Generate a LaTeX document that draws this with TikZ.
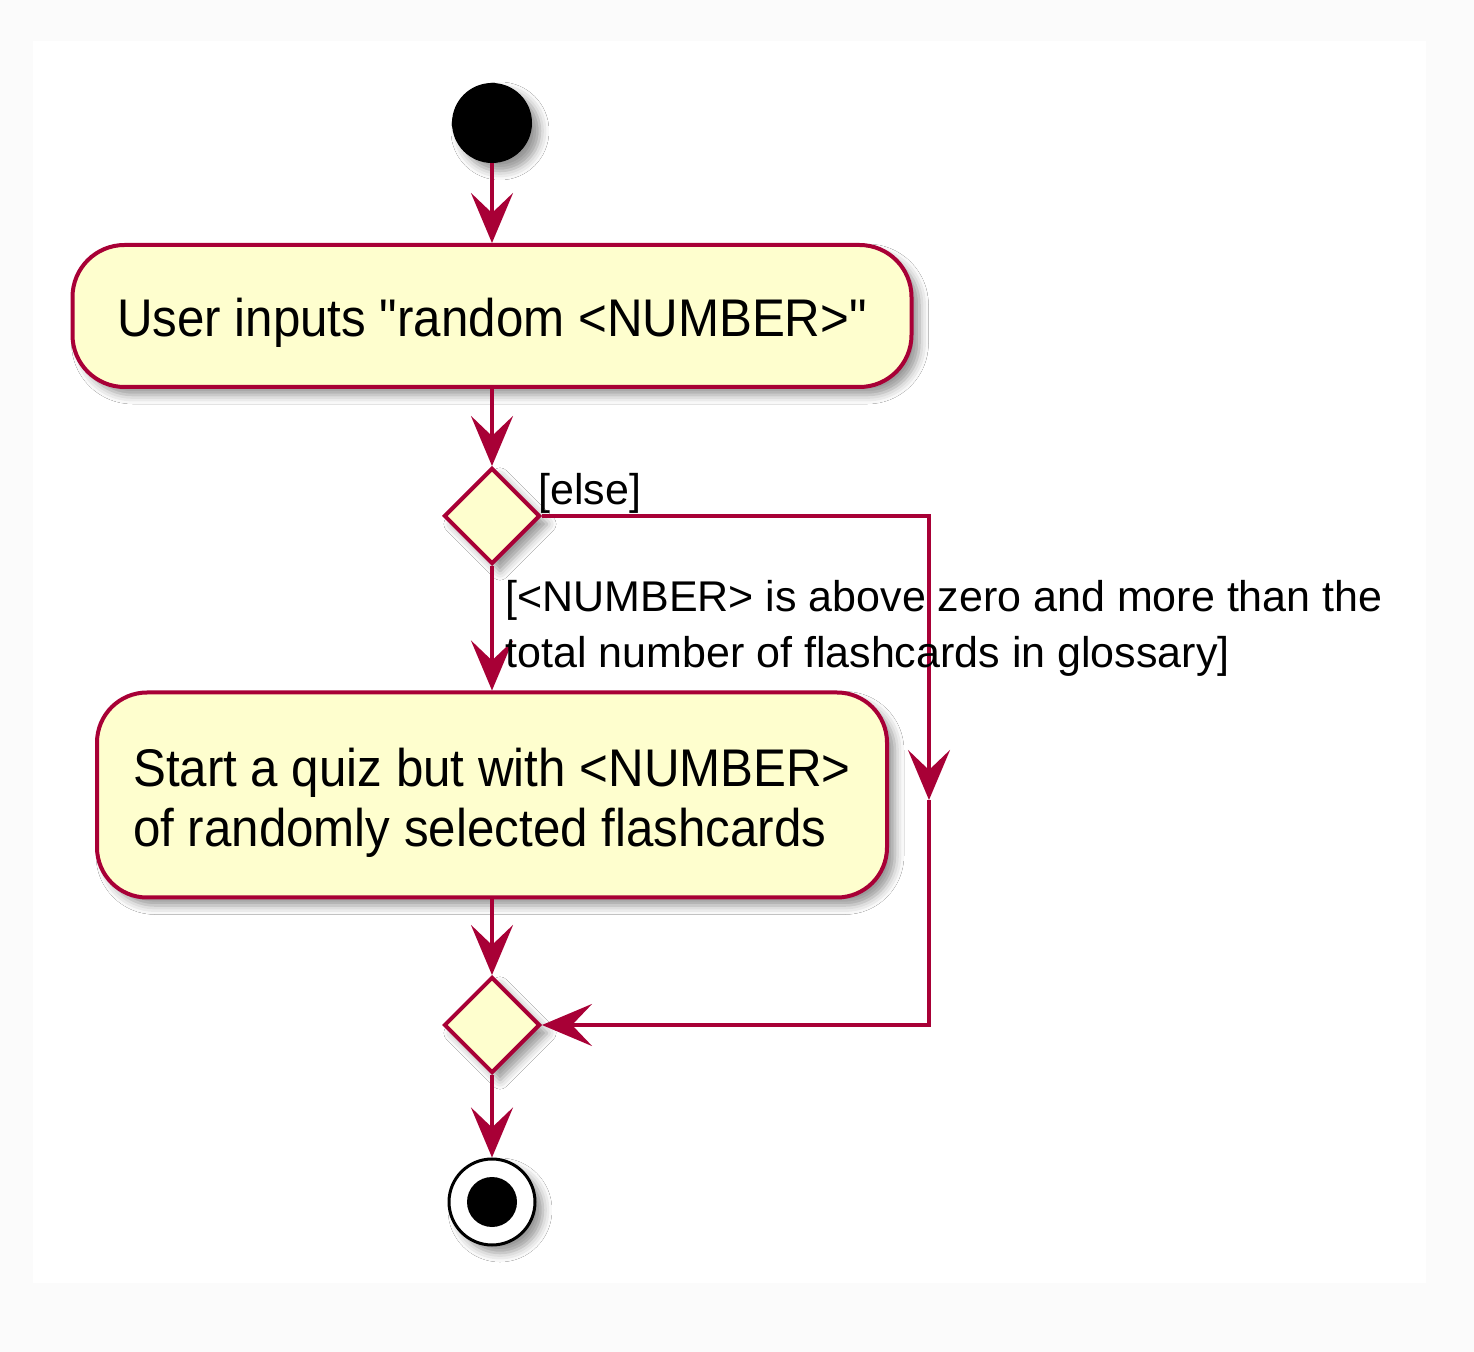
\documentclass[tikz,border=0pt]{standalone}
\usepackage{fontspec}
\setmainfont{Liberation Sans}
\newfontfamily\boxfont[FakeStretch=0.93]{Liberation Sans}
\usetikzlibrary{shapes.geometric,arrows.meta,shadows.blur}
\definecolor{umlred}{HTML}{A80036}
\definecolor{umlfill}{HTML}{FEFECE}
\definecolor{bgout}{HTML}{FBFBFB}
\begin{document}
\begin{tikzpicture}[x=0.5pt,y=-0.5pt,
 shad/.style={blur shadow={shadow xshift=4pt,shadow yshift=-4pt,shadow blur radius=4.5pt,shadow opacity=42}},
 actbox/.style={draw=umlred,line width=2pt,fill=umlfill,rounded corners=26pt,shad,font=\boxfont\fontsize{26.5}{30}\selectfont,inner sep=0pt},
 choice/.style={diamond,draw=umlred,line width=2pt,fill=umlfill,minimum width=48pt,minimum height=48pt,inner sep=0pt,shad},
 flow/.style={draw=umlred,line width=2pt,-{Stealth[length=25pt,width=21pt,inset=10pt]}},
 guard/.style={font=\fontsize{21.5}{28}\selectfont,inner sep=0pt},
]
\fill[bgout] (0,0) rectangle (1474,1352);
\fill[white] (33,41) rectangle (1426,1283);
\useasboundingbox (0,0) rectangle (1474,1352);

\node[circle,fill=black,minimum size=40pt,inner sep=0pt,shad] (start) at (492,123) {};
\node[actbox,minimum width=419.5pt,minimum height=71pt] (b1) at (492,316) {\rule{0pt}{26.5pt}User inputs "random <NUMBER>"};
\node[choice] (d1) at (492,516) {};
\node[actbox,minimum width=395pt,minimum height=102.5pt,align=left,rounded corners=25pt] (b2) at (492,795) {\rule{0pt}{27pt}Start a quiz but with <NUMBER>\\of randomly selected flashcards};
\node[choice] (d2) at (492,1025) {};
\node[circle,draw=black,line width=1.5pt,fill=white,minimum size=43pt,inner sep=0pt,shad] (stop) at (492,1202) {};
\node[circle,fill=black,minimum size=25pt,inner sep=0pt] (stopdot) at (stop) {};

\coordinate (cm) at (929,800);

\draw[flow] (start) -- (b1);
\draw[flow] (b1) -- (d1);
\draw[flow] (d1) -- (b2);
\draw[flow] (b2) -- (d2);
\draw[flow] (d2) -- (stop);
\draw[flow] (d1.east) -| (cm);
\draw[flow] (cm) |- (d2.east);

\node[guard,anchor=base west] (elselbl) at (538,505) {[else]};
\node[guard,anchor=north west,align=left] (condlbl) at (505,572) {\strut[<NUMBER> is above zero and more than the\\\strut total number of flashcards in glossary]};
\end{tikzpicture}
\end{document}
